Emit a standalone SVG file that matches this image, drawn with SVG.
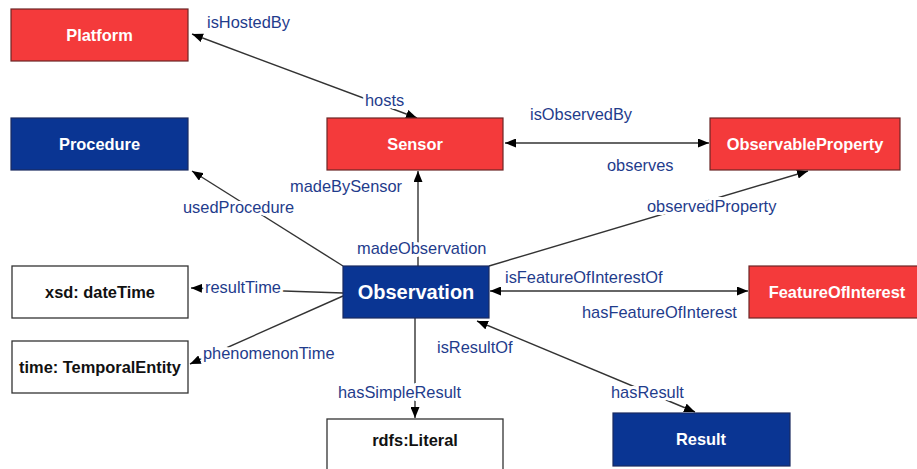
<svg xmlns="http://www.w3.org/2000/svg" width="917" height="469" viewBox="0 0 917 469">
<defs>
<marker id="ah" viewBox="0 0 11 9" refX="11" refY="4.5" markerWidth="11" markerHeight="9" markerUnits="userSpaceOnUse" orient="auto-start-reverse">
<path d="M0,0 L11,4.5 L0,9 z" fill="#000"/>
</marker>
</defs>
<style>
.red{fill:#f43a3b;stroke:#6b2626;stroke-width:1.2}
.blue{fill:#0a3593;stroke:#1a2a60;stroke-width:1.2}
.white{fill:#fff;stroke:#333;stroke-width:1.3}
.nl{font-family:"Liberation Sans",Arial,sans-serif;font-weight:bold;font-size:16.4px;text-anchor:middle;dominant-baseline:central}
.wt{fill:#fff}
.bk{fill:#111}
.big{font-size:20px}
.conn line{stroke:#333;stroke-width:1.4;fill:none}
.el{font-family:"Liberation Sans",Arial,sans-serif;font-size:16.4px;fill:#1f3c8c;stroke:#fff;stroke-width:6px;stroke-linejoin:round;paint-order:stroke}
</style>
<rect width="917" height="469" fill="#fff"/>
<g id="connectors" class="conn">
<line x1="192" y1="34" x2="417" y2="118" marker-start="url(#ah)" marker-end="url(#ah)"/>
<line x1="343" y1="266" x2="192" y2="171" marker-end="url(#ah)"/>
<line x1="418" y1="266" x2="418" y2="171" marker-end="url(#ah)"/>
<line x1="489" y1="266" x2="808" y2="171" marker-end="url(#ah)"/>
<line x1="505" y1="143" x2="709" y2="143" marker-start="url(#ah)" marker-end="url(#ah)"/>
<line x1="343" y1="293" x2="191" y2="288" marker-end="url(#ah)"/>
<line x1="343" y1="296" x2="190" y2="364" marker-end="url(#ah)"/>
<line x1="415" y1="318" x2="415" y2="418" marker-end="url(#ah)"/>
<line x1="490" y1="291" x2="748" y2="291" marker-start="url(#ah)" marker-end="url(#ah)"/>
<line x1="477" y1="321" x2="695" y2="412" marker-start="url(#ah)" marker-end="url(#ah)"/>
</g>
<g id="edge-labels">
<text class="el" x="207" y="28">isHostedBy</text>
<text class="el" x="365" y="106">hosts</text>
<text class="el" x="183" y="213">usedProcedure</text>
<text class="el" x="290" y="192">madeBySensor</text>
<text class="el" x="357" y="254">madeObservation</text>
<text class="el" x="530" y="120">isObservedBy</text>
<text class="el" x="607" y="171">observes</text>
<text class="el" x="647" y="212">observedProperty</text>
<text class="el" x="205" y="293">resultTime</text>
<text class="el" x="203" y="359">phenomenonTime</text>
<text class="el" x="338" y="398">hasSimpleResult</text>
<text class="el" x="437" y="353">isResultOf</text>
<text class="el" x="611" y="398">hasResult</text>
<text class="el" x="505" y="283">isFeatureOfInterestOf</text>
<text class="el" x="582" y="318">hasFeatureOfInterest</text>
</g>
<g id="platform"><rect class="red" x="11" y="9" width="177" height="52"/><text class="nl wt" x="99.5" y="35">Platform</text></g>
<g id="procedure"><rect class="blue" x="11" y="118" width="177" height="52"/><text class="nl wt" x="99.5" y="144">Procedure</text></g>
<g id="sensor"><rect class="red" x="327" y="118" width="176" height="52"/><text class="nl wt" x="415" y="144">Sensor</text></g>
<g id="observableproperty"><rect class="red" x="710" y="118" width="190" height="52"/><text class="nl wt" x="805" y="144">ObservableProperty</text></g>
<g id="observation"><rect class="blue" x="343" y="266" width="146" height="52"/><text class="nl wt big" x="416" y="292">Observation</text></g>
<g id="datetime"><rect class="white" x="12" y="266" width="176" height="52"/><text class="nl bk" x="100" y="292">xsd: dateTime</text></g>
<g id="temporalentity"><rect class="white" x="12" y="341" width="176" height="52"/><text class="nl bk" x="100" y="367">time: TemporalEntity</text></g>
<g id="featureofinterest"><rect class="red" x="749" y="266" width="176" height="52"/><text class="nl wt" x="837" y="292">FeatureOfInterest</text></g>
<g id="literal"><rect class="white" x="327" y="419" width="176" height="54"/><text class="nl bk" x="415" y="440">rdfs:Literal</text></g>
<g id="result"><rect class="blue" x="613" y="413" width="177" height="53"/><text class="nl wt" x="701" y="439">Result</text></g>
</svg>
